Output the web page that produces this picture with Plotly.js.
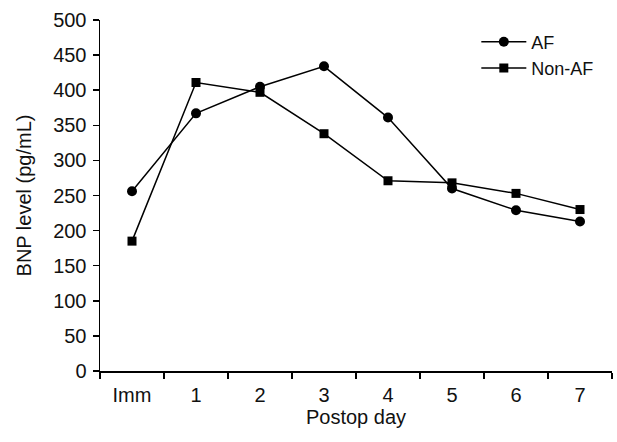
<!DOCTYPE html>
<html><head><meta charset="utf-8">
<script src="https://cdn.plot.ly/plotly-3.0.1.min.js"></script>
<style>html,body{margin:0;padding:0;background:#fff;}#chart{width:617px;height:442px;}</style>
</head><body><div id="chart"></div>
<script>
const days = ["Imm","1","2","3","4","5","6","7"];
const afValues = [256, 367, 405, 434, 361, 260, 229, 213];
const nonAfValues = [185, 411, 397, 338, 271, 268, 253, 230];
const yTicks = [0,50,100,150,200,250,300,350,400,450,500];

const font = {family: "Liberation Sans, Arial, sans-serif", color: "#111", size: 20};
const traces = [
  {x: days, y: afValues, name: "AF", type: "scatter", mode: "lines+markers",
   line: {color: "#000", width: 1.5}, marker: {symbol: "circle", size: 10, color: "#000"}},
  {x: days, y: nonAfValues, name: "Non-AF", type: "scatter", mode: "lines+markers",
   line: {color: "#000", width: 1.5}, marker: {symbol: "square", size: 9, color: "#000"}}
];
const layout = {
  width: 617, height: 442,
  margin: {l: 100, r: 5, t: 20, b: 71},
  paper_bgcolor: "#fff", plot_bgcolor: "#fff",
  font: font,
  showlegend: true,
  legend: {x: 0.735, y: 0.99, xanchor: "left", yanchor: "top", bgcolor: "rgba(0,0,0,0)",
           itemwidth: 45,
           font: {family: font.family, size: 18, color: "#111"}, tracegroupgap: 0},
  xaxis: {type: "category", range: [-0.5, 7.5], tickson: "boundaries", ticks: "outside", ticklen: 6,
          tickwidth: 1.5, tickcolor: "#000", showline: true, linecolor: "#000", linewidth: 1.5,
          showgrid: false, zeroline: false, tickfont: {size: 20}, ticklabelstandoff: 5,
          title: {text: "Postop day", font: {size: 20}, standoff: 2}},
  yaxis: {range: [0, 500], tickvals: yTicks, ticks: "outside", ticklen: 6, tickwidth: 1.5,
          tickcolor: "#000", showline: true, linecolor: "#000", linewidth: 1.5,
          showgrid: false, zeroline: false, tickfont: {size: 20}, ticklabelstandoff: 2,
          title: {text: "BNP level (pg/mL)", font: {size: 20}, standoff: 16}}
};
Plotly.newPlot("chart", traces, layout, {staticPlot: true, displayModeBar: false});
</script></body></html>
